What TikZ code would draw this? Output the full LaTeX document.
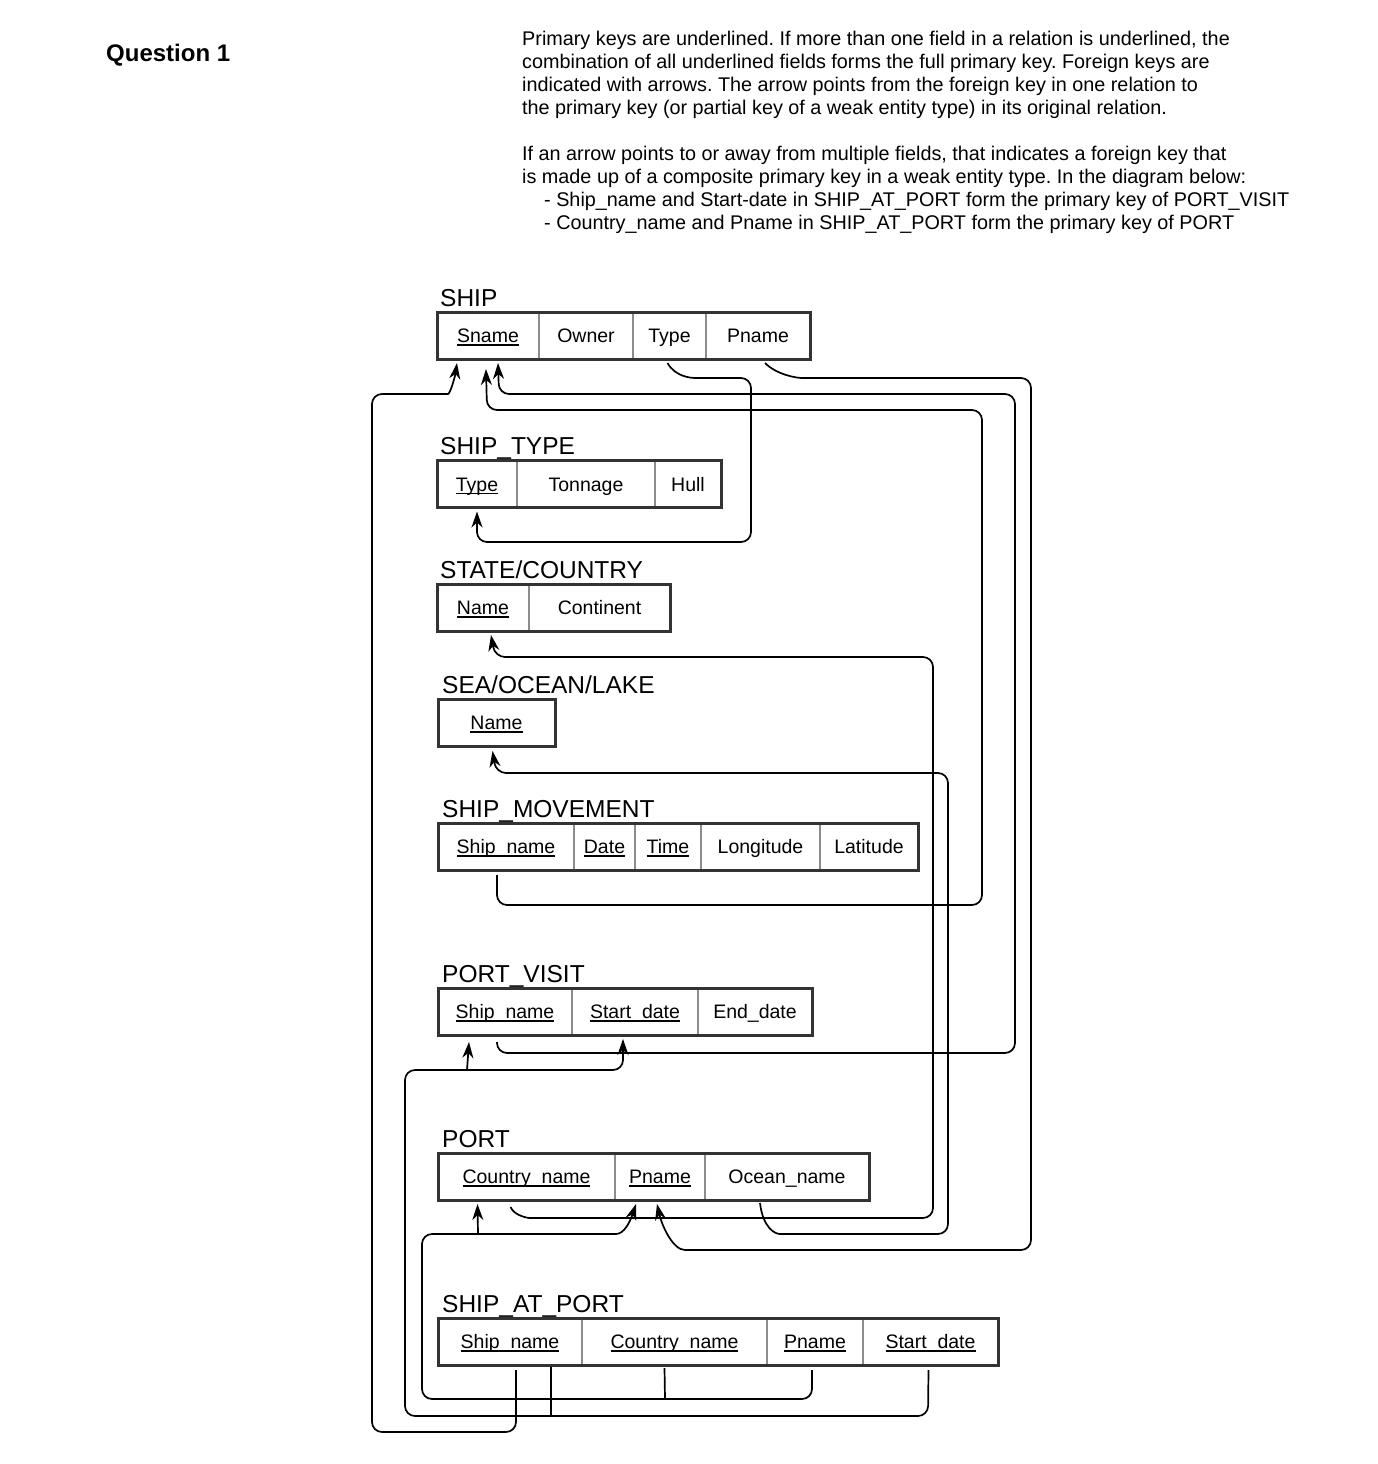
\documentclass[tikz,border=0pt]{standalone}
\usepackage{fontspec}
\setmainfont{Liberation Sans}
\usetikzlibrary{arrows.meta,calc}
\frenchspacing

% underlined key field
\newcommand\pkey[1]{\leavevmode\setbox0\hbox{#1}\rlap{\rule[-3pt]{\wd0}{1.3pt}}\box0}

\begin{document}
\begin{tikzpicture}[x=1pt,y=-1pt,
   cell/.style={draw=black!45, line width=1.5pt, minimum height=47pt, inner sep=0pt, outer sep=0pt,
      text height=16pt, text depth=2pt, font=\fontsize{19.5}{23}\selectfont},
   relbox/.style={draw=black!80, line width=3pt},
   relname/.style={anchor=base west, inner sep=0pt, font=\fontsize{24.5}{28}\selectfont},
   fk/.style={line width=1.7pt, rounded corners=10pt},
   fkarrow/.style={fk, -{Stealth[length=16pt,width=11pt,inset=5pt]}}]

   \useasboundingbox (0,0) rectangle (1378,1464);

   \node[anchor=base west, inner sep=0pt, font=\fontsize{24}{28}\selectfont\bfseries] (question) at (106,61.5) {Question 1};

   \node[anchor=north west, align=left, inner sep=0pt, font=\fontsize{19.8}{23}\selectfont] (notes) at (522,30.5)
   {Primary keys are underlined. If more than one field in a relation is underlined, the\\
    combination of all underlined fields forms the full primary key. Foreign keys are\\
    indicated with arrows. The arrow points from the foreign key in one relation to\\
    the primary key (or partial key of a weak entity type) in its original relation.\\[23pt]
    If an arrow points to or away from multiple fields, that indicates a foreign key that\\
    is made up of a composite primary key in a weak entity type. In the diagram below:\\
    \hspace*{22pt}- Ship\_name and Start-date in SHIP\_AT\_PORT form the primary key of PORT\_VISIT\\
    \hspace*{22pt}- Country\_name and Pname in SHIP\_AT\_PORT form the primary key of PORT};

   % SHIP
   \node[relname] (ship) at (440,306) {SHIP};
   \node[cell, minimum width=102pt] (ship-sname) at (488,335.5) {\pkey{Sname}};
   \node[cell, minimum width=94pt] (ship-owner) at (586,335.5) {Owner};
   \node[cell, minimum width=73pt] (ship-type) at (669.5,335.5) {Type};
   \node[cell, minimum width=104pt] (ship-pname) at (758,335.5) {Pname};
   \draw[relbox] (ship-sname.north west) rectangle (ship-pname.south east);

   % SHIP_TYPE
   \node[relname] (shiptype) at (440,454) {SHIP\_TYPE};
   \node[cell, minimum width=80pt] (st-type) at (477,484) {\pkey{Type}};
   \node[cell, minimum width=138pt] (st-tonnage) at (586,484) {Tonnage};
   \node[cell, minimum width=66pt] (st-hull) at (688,484) {Hull};
   \draw[relbox] (st-type.north west) rectangle (st-hull.south east);

   % STATE/COUNTRY
   \node[relname] (statecountry) at (440,578) {STATE/COUNTRY};
   \node[cell, minimum width=92pt] (sc-name) at (483,607.5) {\pkey{Name}};
   \node[cell, minimum width=141pt] (sc-continent) at (599.5,607.5) {Continent};
   \draw[relbox] (sc-name.north west) rectangle (sc-continent.south east);

   % SEA/OCEAN/LAKE
   \node[relname] (seaoceanlake) at (442,693) {SEA/OCEAN/LAKE};
   \node[cell, minimum width=117pt] (sol-name) at (496.5,722.5) {\pkey{Name}};
   \draw[relbox] (sol-name.north west) rectangle (sol-name.south east);

   % SHIP_MOVEMENT
   \node[relname] (shipmovement) at (442,817) {SHIP\_MOVEMENT};
   \node[cell, minimum width=136pt] (sm-ship) at (506,846.5) {\pkey{Ship\_name}};
   \node[cell, minimum width=61pt] (sm-date) at (604.5,846.5) {\pkey{Date}};
   \node[cell, minimum width=66pt] (sm-time) at (668,846.5) {\pkey{Time}};
   \node[cell, minimum width=119pt] (sm-long) at (760.5,846.5) {Longitude};
   \node[cell, minimum width=98pt] (sm-lat) at (869,846.5) {Latitude};
   \draw[relbox] (sm-ship.north west) rectangle (sm-lat.south east);

   % PORT_VISIT
   \node[relname] (portvisit) at (442,982) {PORT\_VISIT};
   \node[cell, minimum width=134pt] (pv-ship) at (505,1011.5) {\pkey{Ship\_name}};
   \node[cell, minimum width=126pt] (pv-start) at (635,1011.5) {\pkey{Start\_date}};
   \node[cell, minimum width=114pt] (pv-end) at (755,1011.5) {End\_date};
   \draw[relbox] (pv-ship.north west) rectangle (pv-end.south east);

   % PORT
   \node[relname] (port) at (442,1147) {PORT};
   \node[cell, minimum width=177pt] (port-country) at (526.5,1176.5) {\pkey{Country\_name}};
   \node[cell, minimum width=90pt] (port-pname) at (660,1176.5) {\pkey{Pname}};
   \node[cell, minimum width=164pt] (port-ocean) at (787,1176.5) {Ocean\_name};
   \draw[relbox] (port-country.north west) rectangle (port-ocean.south east);

   % SHIP_AT_PORT
   \node[relname] (shipatport) at (442,1312) {SHIP\_AT\_PORT};
   \node[cell, minimum width=144pt] (sap-ship) at (510,1341.5) {\pkey{Ship\_name}};
   \node[cell, minimum width=185pt] (sap-country) at (674.5,1341.5) {\pkey{Country\_name}};
   \node[cell, minimum width=96pt] (sap-pname) at (815,1341.5) {\pkey{Pname}};
   \node[cell, minimum width=135pt] (sap-start) at (930.5,1341.5) {\pkey{Start\_date}};
   \draw[relbox] (sap-ship.north west) rectangle (sap-start.south east);

   % junctions of the composite keys
   \coordinate (pv-split) at (467,1070);
   \coordinate (sap-join) at (551,1416);
   \coordinate (port-split) at (478,1234);
   \coordinate (sap-join2) at (665,1399);

   % foreign keys
   \draw[fkarrow] ($(ship-type.south)+(-2,4)$) .. controls +(8,14) and +(-15,0) .. (706,378)
      -- (751,378) -- (751,542) -- (477,542) -- ($(st-type.south)+(0,4)$);
   \draw[fkarrow] ($(ship-pname.south)+(7,4)$) .. controls +(12,12) and +(-15,0) .. (812,378)
      -- (1031,378) -- (1031,1250) -- (695,1250) .. controls +(-22,0) and +(5,22) .. ($(port-pname.south)+(-3,4)$);
   \draw[fkarrow] ($(sap-ship.south)+(6,5)$) -- (516,1432) -- (372,1432) -- (372,394) -- (438,394)
      .. controls +(12,0) and +(-2,14) .. ($(ship-sname.south)+(-31,4)$);
   \draw[fkarrow] ($(sm-ship.south)+(-9,5)$) -- (497,905) -- (982,905) -- (982,410) -- (487,410)
      -- ($(ship-sname.south)+(-2,10)$);
   \draw[fkarrow] ($(pv-ship.south)+(-8,7)$) -- (497,1053) -- (1015,1053) -- (1015,394) -- (499,394)
      -- ($(ship-sname.south)+(10,4)$);
   \draw[fkarrow] ($(port-country.south)+(-16,7)$) .. controls +(4,9) and +(-12,0) .. (540,1218)
      -- (933,1218) -- (933,657) -- (495,657) -- ($(sc-name.south)+(8,4)$);
   \draw[fkarrow] ($(port-ocean.south)+(-27,3)$) .. controls +(3,25) and +(-15,0) .. (790,1234)
      -- (948,1234) -- (948,773) -- (496,773) -- ($(sol-name.south)+(-4,5)$);

   % composite keys of SHIP_AT_PORT
   \draw[fkarrow] ($(sap-start.south)+(-2,5)$) -- (928,1416) -- (405,1416) -- (405,1070) -- (623,1070)
      -- ($(pv-start.south)+(-12,4)$);
   \draw[fk] ($(sap-ship.south)+(41,2)$) -- (sap-join);
   \draw[fkarrow] (pv-split) -- ($(pv-ship.south)+(-36,7)$);

   \draw[fkarrow] ($(sap-pname.south)+(-3,5)$) -- (812,1399) -- (422,1399) -- (422,1234) -- (606,1234)
      .. controls +(18,0) and +(-6,18) .. ($(port-pname.south)+(-24,4)$);
   \draw[fk] ($(sap-country.south)+(-10,3)$) -- (sap-join2);
   \draw[fkarrow] (port-split) -- ($(port-country.south)+(-49,4)$);

\end{tikzpicture}
\end{document}
